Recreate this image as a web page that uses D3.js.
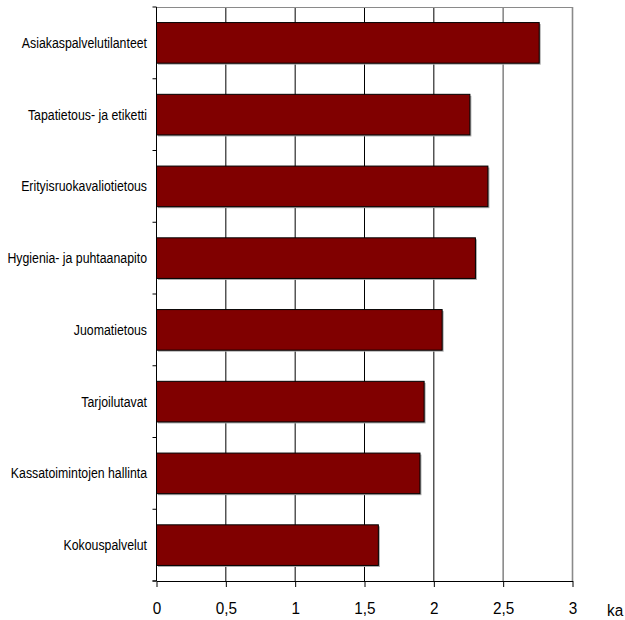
<!DOCTYPE html>
<html>
<head>
<meta charset="utf-8">
<script src="https://cdn.jsdelivr.net/npm/d3@7"></script>
<style>
  html, body { margin: 0; padding: 0; background: #fff; }
  svg text { font-family: "Liberation Sans", Arial, sans-serif; fill: #000; }
</style>
</head>
<body>
<svg id="chart" width="625" height="620"></svg>
<script>
// Keskiarvot aihealueittain
const categories = [
  "Asiakaspalvelutilanteet",
  "Tapatietous- ja etiketti",
  "Erityisruokavaliotietous",
  "Hygienia- ja puhtaanapito",
  "Juomatietous",
  "Tarjoilutavat",
  "Kassatoimintojen hallinta",
  "Kokouspalvelut"
];
const values = [2.76, 2.26, 2.39, 2.30, 2.06, 1.93, 1.90, 1.60];
const xTicks = [0, 0.5, 1, 1.5, 2, 2.5, 3];
const xTickLabels = ["0", "0,5", "1", "1,5", "2", "2,5", "3"];
const axisTitle = "ka";

const svg = d3.select("#chart");
const plotLeft = 156.5, plotRight = 572.5, plotTop = 7, plotBottom = 581;
// kapea kirjasin: vaakasuuntainen puristus
const labelSquash = 0.85, tickSquash = 0.9;

const x = d3.scaleLinear().domain([0, 3]).range([plotLeft, plotRight]);
const y = d3.scaleBand().domain(categories).range([plotTop, plotBottom])
  .paddingInner(0.434).paddingOuter(0.217);

// Pystysuuntainen ruudukko ja kehys
svg.append("g").selectAll("line")
  .data(xTicks.slice(1))
  .join("line")
  .attr("x1", d => x(d)).attr("x2", d => x(d))
  .attr("y1", plotTop).attr("y2", plotBottom)
  .attr("stroke", d => d >= 2.5 ? "#8a8a8a" : "#000")
  .attr("stroke-width", d => d >= 2.5 ? 1.6 : 1);
svg.append("line")
  .attr("x1", plotLeft).attr("x2", plotRight)
  .attr("y1", plotTop + 0.5).attr("y2", plotTop + 0.5)
  .attr("stroke", "#8a8a8a").attr("stroke-width", 1.2);

// Pylväät varjoineen
const bars = svg.append("g");
bars.selectAll("rect.shadow")
  .data(values)
  .join("rect")
  .attr("class", "shadow")
  .attr("x", x(0) + 1.5)
  .attr("y", (d, i) => y(categories[i]) + 1.5)
  .attr("width", d => x(d) - x(0))
  .attr("height", y.bandwidth())
  .attr("fill", "#a8a8a8");
bars.selectAll("rect.bar")
  .data(values)
  .join("rect")
  .attr("class", "bar")
  .attr("x", x(0))
  .attr("y", (d, i) => y(categories[i]))
  .attr("width", d => x(d) - x(0))
  .attr("height", y.bandwidth())
  .attr("fill", "#800000")
  .attr("stroke", "#000")
  .attr("stroke-width", 1);

// Y-akseli: viiva ja väliviivat luokkien rajoilla
const yAxis = svg.append("g");
yAxis.append("line")
  .attr("x1", plotLeft).attr("x2", plotLeft)
  .attr("y1", plotTop).attr("y2", plotBottom)
  .attr("stroke", "#000");
const boundaries = d3.range(categories.length + 1).map(i => plotTop + i * y.step());
yAxis.selectAll("line.tick")
  .data(boundaries)
  .join("line")
  .attr("class", "tick")
  .attr("x1", plotLeft - 4).attr("x2", plotLeft)
  .attr("y1", d => d).attr("y2", d => d)
  .attr("stroke", "#000");
yAxis.selectAll("text")
  .data(categories)
  .join("text")
  .attr("transform", d => `translate(147,${y(d) + y.bandwidth() / 2}) scale(${labelSquash},1)`)
  .attr("dy", "0.35em")
  .attr("text-anchor", "end")
  .attr("font-size", 14.5)
  .text(d => d);

// X-akseli
const xAxis = svg.append("g").attr("transform", `translate(0,${plotBottom})`)
  .call(d3.axisBottom(x).tickValues(xTicks)
    .tickFormat((d, i) => xTickLabels[i])
    .tickSize(6).tickPadding(0).tickSizeOuter(0));
xAxis.select(".domain").attr("stroke", "#000");
xAxis.selectAll(".tick line").attr("stroke", "#000");
xAxis.selectAll(".tick text")
  .attr("y", 33)
  .attr("dy", null)
  .attr("transform", `scale(${tickSquash},1)`)
  .attr("font-size", 17)
  .style("font-family", "'Liberation Sans', Arial, sans-serif");
xAxis.append("line")
  .attr("x1", plotLeft - 4).attr("x2", plotLeft)
  .attr("y1", 0).attr("y2", 0)
  .attr("stroke", "#000");

svg.append("text")
  .attr("transform", `translate(607,616) scale(${tickSquash},1)`)
  .attr("text-anchor", "start")
  .attr("font-size", 17)
  .text(axisTitle);
</script>
</body>
</html>
